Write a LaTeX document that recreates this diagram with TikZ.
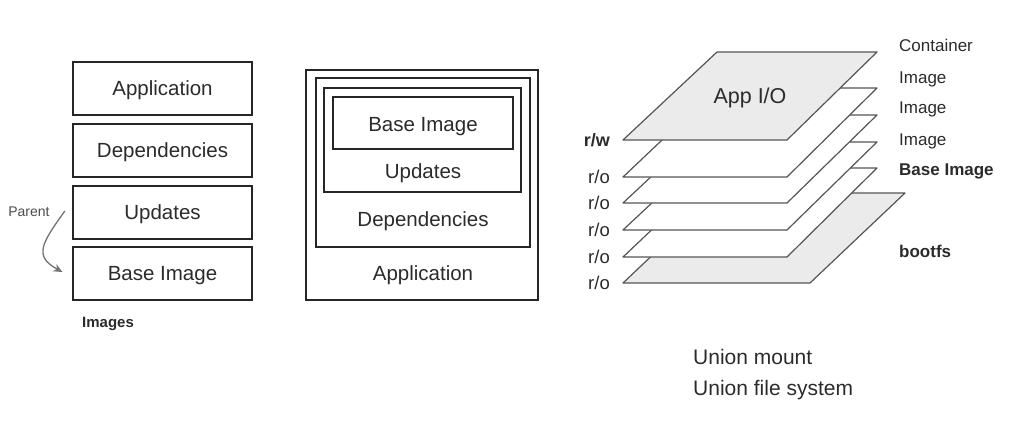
\documentclass[tikz,border=0pt]{standalone}
\usepackage{fontspec}
\setmainfont{Liberation Sans}
\usetikzlibrary{arrows.meta}
\definecolor{txt}{HTML}{2B2B2B}
\definecolor{edge}{HTML}{555555}
\definecolor{layerfill}{HTML}{EBEBEB}
\begin{document}
\begin{tikzpicture}[x=1pt,y=-1pt,
  box/.style={draw=black!85, line width=1.2pt, minimum width=179pt, minimum height=53pt, inner sep=0pt, text depth=0pt, font=\fontsize{20.5}{24}\selectfont, text=txt},
  frame/.style={draw=black!85, line width=1.2pt, inner sep=0pt},
  big/.style={font=\fontsize{20.5}{24}\selectfont, text=txt, inner sep=0pt},
  lbl/.style={font=\fontsize{17}{20}\selectfont, text=txt, inner sep=0pt},
  side/.style={font=\fontsize{18.5}{22}\selectfont, text=txt, inner sep=0pt, anchor=east},
  layer/.style={draw=edge, line width=1.2pt, line join=round},
]
\useasboundingbox (0,0) rectangle (1010,431);

% ---- left stack ----
\node[box] (app) at (162.5,88.5) {Application};
\node[box] (dep) at (162.5,150.5) {Dependencies};
\node[box] (upd) at (162.5,212.5) {Updates};
\node[box] (bi)  at (162.5,273.5) {Base Image};
\node[font=\fontsize{15}{18}\selectfont\bfseries, text=txt, anchor=west, inner sep=0pt] (images) at (82,324) {Images};
\node[font=\fontsize{14}{16}\selectfont, text=black!70, inner sep=0pt] (parent) at (29,212) {Parent};
\draw[black!55, line width=1.3pt, -{Stealth[length=9pt,width=8pt]}]
  ([xshift=15pt,yshift=1pt]parent.east) .. controls (42,243) and (33,256) .. ([xshift=-10pt,yshift=1.5pt]bi.west);

% ---- middle nested boxes ----
\node[frame, minimum width=232pt, minimum height=230pt] (outer) at (422,185) {};
\node[frame, minimum width=214pt, minimum height=169pt] (f2) at (423,162.5) {};
\node[frame, minimum width=197pt, minimum height=104pt] (f3) at (422.5,140) {};
\node[frame, minimum width=180pt, minimum height=52pt] (f4) at (423,123) {};
\node[big] (tbi) at (423,127) {Base Image};
\node[big] (tup) at (423,173) {Updates};
\node[big] (tdep) at (423,221) {Dependencies};
\node[big] (tapp) at (423,275) {Application};

% ---- right layers ----
\filldraw[layer, fill=layerfill] (623,283) -- (810,283) -- (905,193) -- (718,193) -- cycle;
\filldraw[layer, fill=white] (623,257) -- (787,257) -- (877,168) -- (717,168) -- cycle;
\filldraw[layer, fill=white] (623,230) -- (787,230) -- (877,142) -- (717,142) -- cycle;
\filldraw[layer, fill=white] (623,203) -- (787,203) -- (877,115) -- (717,115) -- cycle;
\filldraw[layer, fill=white] (623,177) -- (787,177) -- (877,88) -- (717,88) -- cycle;
\filldraw[layer, fill=layerfill] (623,140) -- (787,140) -- (877,52) -- (717,52) -- cycle;
\node[big, font=\fontsize{21.5}{25}\selectfont] (appio) at (750,98) {App I/O};

\node[side, font=\fontsize{18}{22}\selectfont\bfseries] (rw) at (610,140) {r/w};
\node[side] (ro1) at (610,177) {r/o};
\node[side] (ro2) at (610,203) {r/o};
\node[side] (ro3) at (610,230) {r/o};
\node[side] (ro4) at (610,257) {r/o};
\node[side] (ro5) at (610,283) {r/o};

\node[lbl, anchor=west] (cont) at (899,45) {Container};
\node[lbl, anchor=west] (im1) at (899,79) {Image};
\node[lbl, anchor=west] (im2) at (899,109) {Image};
\node[lbl, anchor=west] (im3) at (899,141) {Image};
\node[lbl, font=\fontsize{17}{20}\selectfont\bfseries, anchor=west] (bimg) at (899,171) {Base Image};
\node[lbl, font=\fontsize{17}{20}\selectfont\bfseries, anchor=west] (boot) at (899,251) {bootfs};

\node[big, font=\fontsize{21}{25}\selectfont, anchor=west] (um) at (693,357) {Union mount};
\node[big, font=\fontsize{21}{25}\selectfont, anchor=west] (ufs) at (693,390) {Union file system};
\end{tikzpicture}
\end{document}
